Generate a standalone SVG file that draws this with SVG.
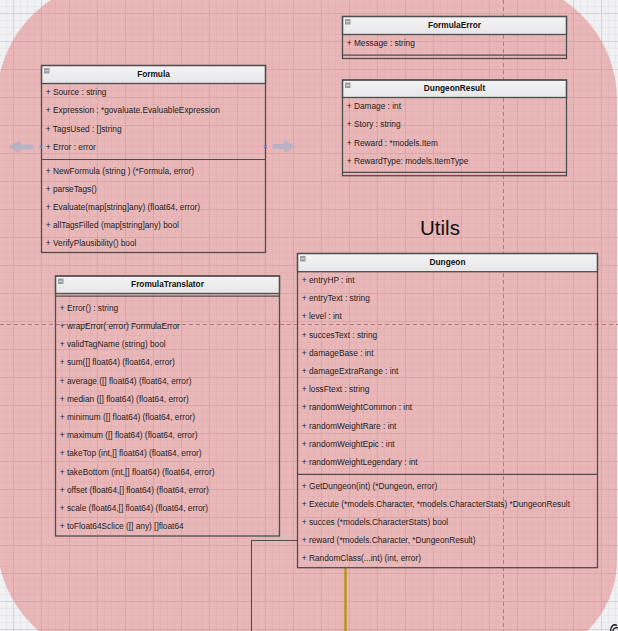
<svg xmlns="http://www.w3.org/2000/svg" width="618" height="631" viewBox="0 0 618 631">
<defs>
<pattern id="grid" x="13" y="13" width="28" height="28" patternUnits="userSpaceOnUse">
<rect width="28" height="28" fill="#F1F1F3"/>
<path d="M7.5,0V28M14.5,0V28M21.5,0V28M0,7.5H28M0,14.5H28M0,21.5H28" stroke="#E8E8EB" stroke-width="1" fill="none"/>
<path d="M0.5,0V28M0,0.5H28" stroke="#D4D4D8" stroke-width="1" fill="none"/>
</pattern>
<linearGradient id="hdr" x1="0" y1="0" x2="0" y2="1">
<stop offset="0" stop-color="#F4F4F5"/>
<stop offset="1" stop-color="#E6E6E8"/>
</linearGradient>
</defs>
<style>
.box{fill:none;stroke:#4E4E4E;stroke-width:1.3}
.hdr{fill:url(#hdr);stroke:#4E4E4E;stroke-width:1.3}
.sep{stroke:#4E4E4E;stroke-width:1.2;fill:none}
.ico{fill:#9C9CA2}
.icl{stroke:#F0F0F0;stroke-width:0.8}
.t{font-family:"Liberation Sans",Arial,sans-serif;font-size:8.3px;fill:#1E1E1E}
.h{font-family:"Liberation Sans",Arial,sans-serif;font-size:8.3px;font-weight:bold;fill:#111;text-anchor:middle}
.guide{stroke:#A87070;stroke-width:1;stroke-dasharray:4,3;fill:none;opacity:0.85}
.conn{stroke:#505050;stroke-width:1.1;fill:none}
.gold{stroke:#B8961E;stroke-width:2.5;fill:none}
.arr{fill:#A9AFC8;opacity:0.75}
.mk{stroke:#2E9BE6;stroke-width:1;fill:none}
</style>
<rect width="618" height="631" fill="url(#grid)"/>
<path d="M117,-20 H497 A120,120 0 0 1 617,100 V560 A100,100 0 0 1 517,660 H117 A120,120 0 0 1 -3,540 V100 A120,120 0 0 1 117,-20 Z" fill="#E07070" fill-opacity="0.45"/>
<g id="guides">
<path class="guide" d="M503.5,0V631"/>
<path class="guide" d="M0,324.5H618"/>
</g>
<text x="440" y="235" font-family="'Liberation Sans',Arial,sans-serif" font-size="20.5" text-anchor="middle" fill="#111">Utils</text>
<g id="connectors">
<path class="conn" d="M297.5,540.5H251.5V631"/>
<path class="gold" d="M345.5,568V631"/>
</g>
<g id="Formula">
<rect class="hdr" x="41.5" y="65.5" width="224" height="18"/>
<rect class="box" x="41.5" y="65.5" width="224" height="187"/>
<path class="sep" d="M41.5,159.5H265.5"/>
<rect class="ico" x="44" y="68" width="5.5" height="5.5"/><path class="icl" d="M45,70.8H48.5"/>
<text class="h" x="153.5" y="76.6">Formula</text>
<text class="t" x="45.8" y="94.8">+ Source : string</text>
<text class="t" x="45.8" y="113">+ Expression : *govaluate.EvaluableExpression</text>
<text class="t" x="45.8" y="131.8">+ TagsUsed : []string</text>
<text class="t" x="45.8" y="149.8">+ Error : error</text>
<text class="t" x="45.8" y="174">+ NewFormula (string ) (*Formula, error)</text>
<text class="t" x="45.8" y="192">+ parseTags()</text>
<text class="t" x="45.8" y="210">+ Evaluate(map[string]any) (float64, error)</text>
<text class="t" x="45.8" y="228">+ allTagsFilled (map[string]any) bool</text>
<text class="t" x="45.8" y="245.8">+ VerifyPlausibility() bool</text>
</g>
<g id="FormulaSelection">
<path class="arr" d="M8,147 L20,140.5 V144.5 H33 V149.5 H20 V153.5 Z"/>
<path class="arr" d="M296,146.5 L284,140 V144 H272.7 V149 H284 V153 Z"/>
<path class="mk" d="M39.5,145.2l3,3m0,-3l-3,3"/>
<path class="mk" d="M263.8,145.2l3,3m0,-3l-3,3"/>
</g>
<g id="FormulaError">
<rect class="hdr" x="342.5" y="16.5" width="224" height="18"/>
<rect class="box" x="342.5" y="16.5" width="224" height="42"/>
<path class="sep" d="M342.5,55.2H566.5"/>
<rect class="ico" x="345" y="19" width="5.5" height="5.5"/><path class="icl" d="M346,21.8H349.5"/>
<text class="h" x="454.5" y="28.3">FormulaError</text>
<text class="t" x="346.8" y="45.8">+ Message : string</text>
</g>
<g id="DungeonResult">
<rect class="hdr" x="342.5" y="80" width="224" height="17.5"/>
<rect class="box" x="342.5" y="80" width="224" height="95.7"/>
<path class="sep" d="M342.5,172.4H566.5"/>
<rect class="ico" x="345" y="82.5" width="5.5" height="5.5"/><path class="icl" d="M346,85.3H349.5"/>
<text class="h" x="454.5" y="91">DungeonResult</text>
<text class="t" x="346.8" y="109">+ Damage : int</text>
<text class="t" x="346.8" y="127">+ Story : string</text>
<text class="t" x="346.8" y="145.8">+ Reward : *models.Item</text>
<text class="t" x="346.8" y="164">+ RewardType: models.ItemType</text>
</g>
<g id="FromulaTranslator">
<rect class="hdr" x="55.5" y="276" width="224" height="17.5"/>
<rect class="box" x="55.5" y="276" width="224" height="260"/>
<path class="sep" d="M55.5,296.2H279.5"/>
<rect class="ico" x="58" y="278.5" width="5.5" height="5.5"/><path class="icl" d="M59,281.3H62.5"/>
<text class="h" x="167.5" y="287.2">FromulaTranslator</text>
<text class="t" x="59.8" y="310.8">+ Error() : string</text>
<text class="t" x="59.8" y="328.9">+ wrapError( error) FormulaError</text>
<text class="t" x="59.8" y="347.1">+ validTagName (string) bool</text>
<text class="t" x="59.8" y="365.3">+ sum([] float64) (float64, error)</text>
<text class="t" x="59.8" y="383.5">+ average ([] float64) (float64, error)</text>
<text class="t" x="59.8" y="401.7">+ median ([] float64) (float64, error)</text>
<text class="t" x="59.8" y="419.9">+ minimum ([] float64) (float64, error)</text>
<text class="t" x="59.8" y="438.1">+ maximum ([] float64) (float64, error)</text>
<text class="t" x="59.8" y="456.3">+ takeTop (int,[] float64) (float64, error)</text>
<text class="t" x="59.8" y="474.5">+ takeBottom (int,[] float64) (float64, error)</text>
<text class="t" x="59.8" y="492.7">+ offset (float64,[] float64) (float64, error)</text>
<text class="t" x="59.8" y="510.9">+ scale (float64,[] float64) (float64, error)</text>
<text class="t" x="59.8" y="529.1">+ toFloat64Sclice ([] any) []float64</text>
</g>
<g id="Dungeon">
<rect class="hdr" x="297.5" y="253.5" width="300" height="18.2"/>
<rect class="box" x="297.5" y="253.5" width="300" height="314.2"/>
<path class="sep" d="M297.5,474.3H597.5"/>
<rect class="ico" x="300" y="256" width="5.5" height="5.5"/><path class="icl" d="M301,258.8H304.5"/>
<text class="h" x="447.5" y="264.9">Dungeon</text>
<text class="t" x="301.8" y="283">+ entryHP : int</text>
<text class="t" x="301.8" y="301.2">+ entryText : string</text>
<text class="t" x="301.8" y="319.4">+ level : int</text>
<text class="t" x="301.8" y="337.6">+ succesText : string</text>
<text class="t" x="301.8" y="355.8">+ damageBase : int</text>
<text class="t" x="301.8" y="374">+ damageExtraRange : int</text>
<text class="t" x="301.8" y="392.2">+ lossFtext : string</text>
<text class="t" x="301.8" y="410.4">+ randomWeightCommon : int</text>
<text class="t" x="301.8" y="428.6">+ randomWeightRare : int</text>
<text class="t" x="301.8" y="446.8">+ randomWeightEpic : int</text>
<text class="t" x="301.8" y="465">+ randomWeightLegendary : int</text>
<text class="t" x="301.8" y="488.7">+ GetDungeon(int) (*Dungeon, error)</text>
<text class="t" x="301.8" y="506.7">+ Execute (*models.Character, *models.CharacterStats) *DungeonResult</text>
<text class="t" x="301.8" y="524.7">+ succes (*models.CharacterStats) bool</text>
<text class="t" x="301.8" y="542.7">+ reward (*models.Character, *DungeonResult)</text>
<text class="t" x="301.8" y="560.7">+ RandomClass(...int) (int, error)</text>
</g>
<path d="M610.5,631 C610.5,626 614,623.5 617,625.5 M613,631 C613,628.5 615,627 618,628" stroke="#111" stroke-width="1.3" fill="none"/>
</svg>
